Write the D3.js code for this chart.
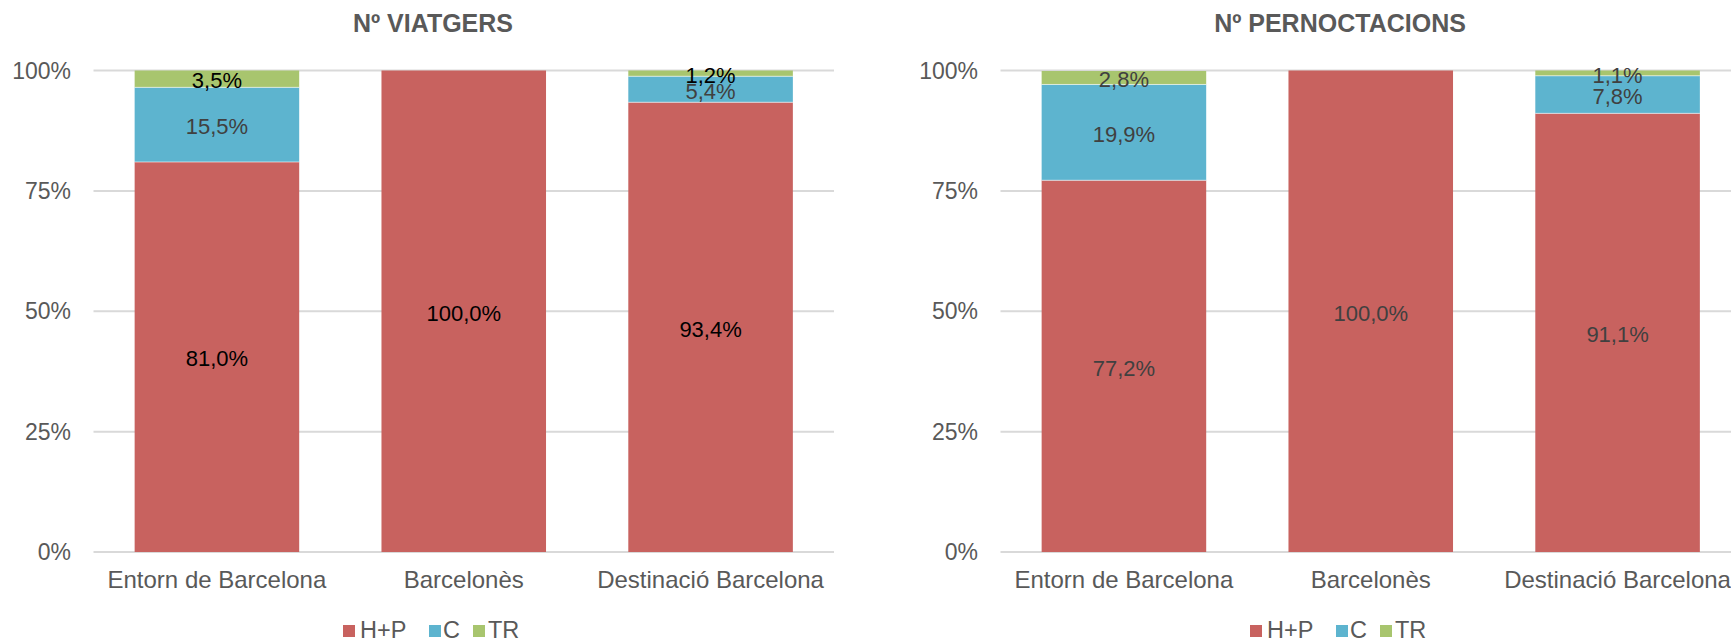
<!DOCTYPE html>
<html><head><meta charset="utf-8">
<script src="https://cdn.jsdelivr.net/npm/d3@7"></script>
<style>
html,body{margin:0;padding:0;background:#fff;}
svg{display:block;font-family:"Liberation Sans",Arial,sans-serif;}
</style></head>
<body>
<svg id="chart" width="1731" height="642"></svg>
<script>
const categories = ["Entorn de Barcelona", "Barcelonès", "Destinació Barcelona"];
const seriesNames = ["H+P", "C", "TR"];
const titles = ["Nº VIATGERS", "Nº PERNOCTACIONS"];
// left chart: Nº VIATGERS
const viatgersHP = [81.0, 100.0, 93.4];
const viatgersC  = [15.5, 0, 5.4];
const viatgersTR = [3.5, 0, 1.2];
// right chart: Nº PERNOCTACIONS
const pernHP = [77.2, 100.0, 91.1];
const pernC  = [19.9, 0, 7.8];
const pernTR = [2.8, 0, 1.1];
const yTicks = [0, 25, 50, 75, 100];
const yTickLabels = ["0%", "25%", "50%", "75%", "100%"];

const colors = ["#C8625F", "#5DB4CF", "#A8C56E"];

const svg = d3.select("#chart");

function fmt(v){ return v.toFixed(1).replace(".", ",") + "%"; }

function drawChart(offsetX, title, hp, c, tr, labelColors) {
  const g = svg.append("g").attr("transform", `translate(${offsetX},0)`);
  const plotL = 93.5, plotR = 834, plotT = 70.5, plotB = 552;
  const x = d3.scaleBand().domain(categories).range([plotL, plotR]).paddingInner(1/3).paddingOuter(1/6);
  const y = d3.scaleLinear().domain([0, 100]).range([plotB, plotT]);

  g.append("text").attr("x", 433).attr("y", 32).attr("text-anchor", "middle")
    .attr("font-size", 25).attr("font-weight", "bold").attr("fill", "#595959").text(title);

  // gridlines
  g.selectAll(".grid").data(yTicks).enter().append("line")
    .attr("x1", plotL).attr("x2", plotR)
    .attr("y1", d => y(d)).attr("y2", d => y(d))
    .attr("stroke", "#D9D9D9").attr("stroke-width", 2);

  // y labels
  g.selectAll(".ylab").data(yTicks).enter().append("text")
    .attr("x", 71).attr("y", d => y(d) + 8).attr("text-anchor", "end")
    .attr("font-size", 23).attr("fill", "#595959").text((d, i) => yTickLabels[i]);

  const rows = categories.map((cat, i) => ({cat, "H+P": hp[i], "C": c[i], "TR": tr[i]}));
  const stack = d3.stack().keys(seriesNames)(rows);

  stack.forEach((layer, si) => {
    g.selectAll(null).data(layer).enter().append("rect")
      .attr("x", d => x(d.data.cat)).attr("width", x.bandwidth())
      .attr("y", d => y(d[1])).attr("height", d => y(d[0]) - y(d[1]))
      .attr("fill", colors[si]);
  });
  // thin white separators between segments
  stack.slice(1).forEach(layer => {
    g.selectAll(null).data(layer.filter(d => d[1] - d[0] > 0)).enter().append("line")
      .attr("x1", d => x(d.data.cat)).attr("x2", d => x(d.data.cat) + x.bandwidth())
      .attr("y1", d => y(d[0])).attr("y2", d => y(d[0]))
      .attr("stroke", "#ffffff").attr("stroke-opacity", 0.6).attr("stroke-width", 1);
  });

  stack.forEach((layer, si) => {
    g.selectAll(null).data(layer.filter(d => d[1] - d[0] > 0)).enter().append("text")
      .attr("x", d => x(d.data.cat) + x.bandwidth() / 2)
      .attr("y", d => (y(d[0]) + y(d[1])) / 2 + 9.5)
      .attr("text-anchor", "middle").attr("font-size", 22)
      .attr("fill", (d, i) => labelColors[si][categories.indexOf(d.data.cat)])
      .text(d => fmt(d[1] - d[0]));
  });

  // x labels
  g.selectAll(".xlab").data(categories).enter().append("text")
    .attr("x", d => x(d) + x.bandwidth() / 2).attr("y", 587.5)
    .attr("text-anchor", "middle").attr("font-size", 24).attr("fill", "#595959").text(d => d);

  // legend
  const legX = [343, 429, 473];
  const legTX = [360, 443, 488];
  seriesNames.forEach((s, i) => {
    g.append("rect").attr("x", legX[i]).attr("y", 625).attr("width", 12).attr("height", 12).attr("fill", colors[i]);
    g.append("text").attr("x", legTX[i]).attr("y", 638).attr("font-size", 23.5).attr("fill", "#595959").text(s);
  });
}

const dark = "#404040";
drawChart(0, titles[0], viatgersHP, viatgersC, viatgersTR,
  [["#000", "#000", "#000"], [dark, dark, dark], ["#000", "#000", "#000"]]);
drawChart(907, titles[1], pernHP, pernC, pernTR,
  [[dark, dark, dark], [dark, dark, dark], [dark, dark, dark]]);
</script>
</body></html>
